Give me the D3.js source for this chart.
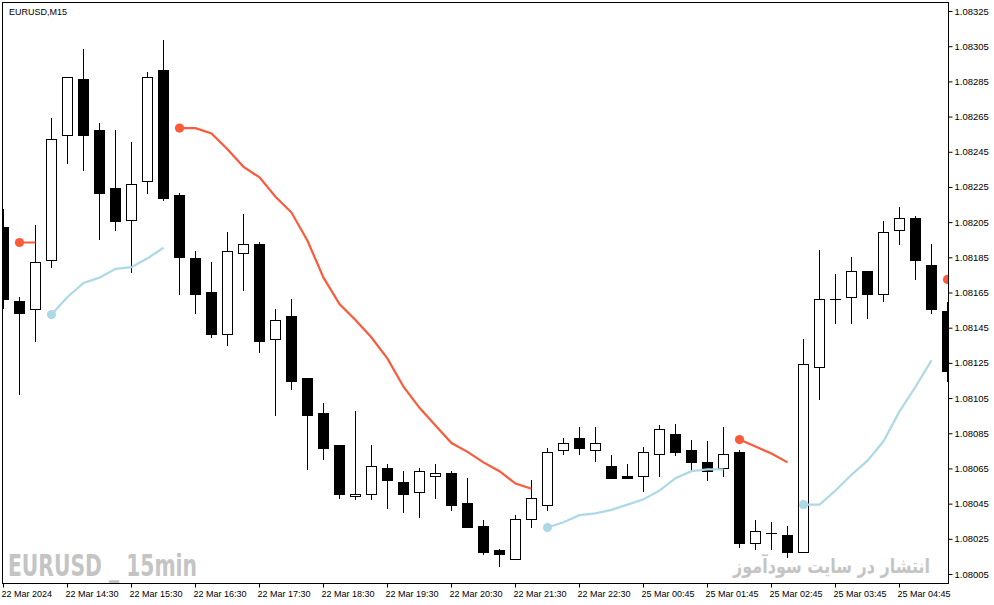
<!DOCTYPE html>
<html>
<head>
<meta charset="utf-8">
<script src="https://cdn.jsdelivr.net/npm/d3@7"></script>
<style>
    body { margin: 0; background: #ffffff; overflow: hidden; }
    svg { display: block; }
</style>
</head>
<body>
<svg id="chartSvg" width="994" height="605"></svg>
<script>
// eurusd m15 candles with the two indicator lines

//tick labels of the time axis and the candle index they sit on
const timeLabels = ['22 Mar 2024', '22 Mar 14:30', '22 Mar 15:30', '22 Mar 16:30', '22 Mar 17:30',
    '22 Mar 18:30', '22 Mar 19:30', '22 Mar 20:30', '22 Mar 21:30', '22 Mar 22:30',
    '25 Mar 00:45', '25 Mar 01:45', '25 Mar 02:45', '25 Mar 03:45', '25 Mar 04:45'];
const timeTickIndex = [0, 4, 8, 12, 16, 20, 24, 28, 32, 36, 40, 44, 48, 52, 56];

//price ticks
const priceTicks = [1.08005, 1.08025, 1.08045, 1.08065, 1.08085, 1.08105, 1.08125, 1.08145,
    1.08165, 1.08185, 1.08205, 1.08225, 1.08245, 1.08265, 1.08285, 1.08305, 1.08325];

//ohlc of every candle
const opens = [1.08203, 1.08161, 1.08156, 1.08184, 1.08255, 1.08287, 1.08258, 1.08225, 1.08207, 1.08229,
    1.08292, 1.08221, 1.08185, 1.08166, 1.08142, 1.08188, 1.08193, 1.08139, 1.08152, 1.08117,
    1.08097, 1.08079, 1.08050, 1.08051, 1.08066, 1.08058, 1.08052, 1.08061, 1.08063, 1.08046,
    1.08033, 1.08019, 1.08014, 1.08037, 1.08045, 1.08076, 1.08083, 1.08076, 1.08067, 1.08061,
    1.08061, 1.08074, 1.08085, 1.08076, 1.08069, 1.08066, 1.08075, 1.08023, 1.08029, 1.08028,
    1.08018, 1.08123, 1.08162, 1.08163, 1.08178, 1.08165, 1.08201, 1.08208, 1.08181, 1.08155];
const highs = [1.08213, 1.08163, 1.08204, 1.08265, 1.08288, 1.08304, 1.08262, 1.08258, 1.08251, 1.08291,
    1.08309, 1.08222, 1.08189, 1.08183, 1.08200, 1.08210, 1.08194, 1.08156, 1.08162, 1.08117,
    1.08103, 1.08079, 1.08098, 1.08079, 1.08068, 1.08064, 1.08066, 1.08068, 1.08064, 1.08060,
    1.08036, 1.08020, 1.08039, 1.08059, 1.08077, 1.08083, 1.08089, 1.08089, 1.08073, 1.08068,
    1.08078, 1.08090, 1.08091, 1.08082, 1.08081, 1.08089, 1.08076, 1.08036, 1.08035, 1.08033,
    1.08139, 1.08190, 1.08176, 1.08186, 1.08178, 1.08206, 1.08214, 1.08209, 1.08193, 1.08160];
const lows = [1.08157, 1.08108, 1.08138, 1.08180, 1.08239, 1.08235, 1.08196, 1.08201, 1.08177, 1.08222,
    1.08218, 1.08165, 1.08154, 1.08140, 1.08136, 1.08167, 1.08132, 1.08096, 1.08111, 1.08065,
    1.08071, 1.08049, 1.08048, 1.08048, 1.08043, 1.08041, 1.08038, 1.08049, 1.08042, 1.08032,
    1.08017, 1.08010, 1.08014, 1.08032, 1.08042, 1.08074, 1.08074, 1.08070, 1.08060, 1.08060,
    1.08053, 1.08061, 1.08073, 1.08065, 1.08059, 1.08061, 1.08021, 1.08020, 1.08020, 1.08015,
    1.08018, 1.08105, 1.08148, 1.08148, 1.08151, 1.08161, 1.08193, 1.08173, 1.08154, 1.08115];
const closes = [1.08162, 1.08154, 1.08183, 1.08253, 1.08288, 1.08255, 1.08222, 1.08206, 1.08227, 1.08288,
    1.08219, 1.08186, 1.08165, 1.08142, 1.08189, 1.08193, 1.08138, 1.08150, 1.08115, 1.08096,
    1.08077, 1.08051, 1.08051, 1.08067, 1.08059, 1.08051, 1.08064, 1.08063, 1.08045, 1.08032,
    1.08018, 1.08017, 1.08037, 1.08049, 1.08075, 1.08080, 1.08077, 1.08080, 1.08060, 1.08060,
    1.08075, 1.08088, 1.08075, 1.08069, 1.08064, 1.08074, 1.08023, 1.08030, 1.08029, 1.08018,
    1.08125, 1.08162, 1.08162, 1.08178, 1.08165, 1.08200, 1.08208, 1.08184, 1.08156, 1.08121];

//indicator lines, null where the line is not drawn
const redLine = [null, 1.08194, 1.08194, null, null, null, null, null, null, null,
    null, 1.08259, 1.08259, 1.08256, 1.08247, 1.08237, 1.08231, 1.08220, 1.08211, 1.08195,
    1.08174, 1.08159, 1.08150, 1.08140, 1.08128, 1.08112, 1.08100, 1.08090, 1.08080, 1.08075,
    1.08069, 1.08064, 1.08057, 1.08054, null, null, null, null, null, null,
    null, null, null, null, null, null, 1.08082, 1.08078, 1.08074, 1.08069,
    null, null, null, null, null, null, null, null, null, 1.08173];
const blueLine = [null, null, null, 1.08153, 1.08163, 1.08171, 1.08174, 1.08179, 1.08180, 1.08185,
    1.08191, null, null, null, null, null, null, null, null, null,
    null, null, null, null, null, null, null, null, null, null,
    null, null, null, null, 1.08032, 1.08035, 1.08039, 1.08040, 1.08042, 1.08045,
    1.08048, 1.08053, 1.08060, 1.08064, 1.08065, 1.08065, null, null, null, null,
    1.08045, 1.08045, 1.08053, 1.08062, 1.08070, 1.08081, 1.08098, 1.08112, 1.08127, null];

const symbolTitle = 'EURUSD,M15';
const watermarkLeft = 'EURUSD _ 15min';
const watermarkRight = 'انتشار در سایت سودآموز';

//will draw the chart
function createCandleChart(){
    const svg = d3.select('#chartSvg');
    svg.selectAll('*').remove();

    const left = 3;
    const right = 948;
    const top = 3;
    const bottom = 583;

    const candles = opens.map((o, i) => ({
        index: i, open: o, high: highs[i], low: lows[i], close: closes[i]
    }));

    //one candle every 16px
    const xScale = d3.scaleLinear()
        .domain([0, opens.length - 1])
        .range([3.5, 3.5 + 16 * (opens.length - 1)]);

    const yScale = d3.scaleLinear()
        .domain([1.08005, 1.08325])
        .range([575, 12]);

    const snap = v => Math.round(v) + 0.5;

    //clip everything inside the frame
    svg.append('clipPath')
        .attr('id', 'plotClip')
        .append('rect')
        .attr('x', left)
        .attr('y', top)
        .attr('width', right - left)
        .attr('height', bottom - top);

    const plot = svg.append('g').attr('clip-path', 'url(#plotClip)');

    //watermarks behind the candles
    svg.append('text')
        .attr('x', 8)
        .attr('y', 576)
        .attr('font-family', '"Liberation Sans Narrow", "DejaVu Sans Condensed", sans-serif')
        .attr('font-weight', 'bold')
        .attr('font-size', '31px')
        .attr('fill', '#c4c4c4')
        .attr('textLength', 189)
        .attr('lengthAdjust', 'spacingAndGlyphs')
        .text(watermarkLeft);

    //persian text is squeezed a bit to keep its width
    svg.append('g')
        .attr('transform', 'translate(930, 573) scale(0.8, 1)')
        .append('text')
        .attr('x', 0)
        .attr('y', 0)
        .attr('text-anchor', 'end')
        .attr('font-family', '"DejaVu Sans", sans-serif')
        .attr('font-weight', 'bold')
        .attr('font-size', '20px')
        .attr('fill', '#c4c4c4')
        .text(watermarkRight);

    //wicks
    plot.selectAll('.wick')
        .data(candles)
        .enter()
        .append('line')
            .attr('class', 'wick')
            .attr('x1', d => xScale(d.index))
            .attr('x2', d => xScale(d.index))
            .attr('y1', d => Math.round(yScale(d.high)))
            .attr('y2', d => Math.round(yScale(d.low)) + 1)
            .attr('stroke', '#000')
            .attr('stroke-width', 1);

    //bodies, white when price went up
    plot.selectAll('.body')
        .data(candles)
        .enter()
        .append('rect')
            .attr('class', 'body')
            .attr('x', d => xScale(d.index) - 5)
            .attr('y', d => snap(yScale(Math.max(d.open, d.close))))
            .attr('width', 10)
            .attr('height', d => Math.max(0.01, snap(yScale(Math.min(d.open, d.close))) - snap(yScale(Math.max(d.open, d.close)))))
            .attr('fill', d => d.close > d.open ? '#ffffff' : '#000000')
            .attr('stroke', '#000')
            .attr('stroke-width', 1);

    //indicator lines with a dot where each piece starts
    const drawIndicator = function(values, color){
        const line = d3.line()
            .defined(d => d != null)
            .x((d, i) => xScale(i))
            .y(d => yScale(d));

        plot.append('path')
            .datum(values)
            .attr('fill', 'none')
            .attr('stroke', color)
            .attr('stroke-width', 2.2)
            .attr('d', line);

        const starts = values
            .map((v, i) => ({ index: i, value: v }))
            .filter(d => d.value != null && (d.index == 0 || values[d.index - 1] == null));

        plot.selectAll(null)
            .data(starts)
            .enter()
            .append('circle')
                .attr('cx', d => xScale(d.index))
                .attr('cy', d => yScale(d.value))
                .attr('r', 4.6)
                .attr('fill', color);
    };

    drawIndicator(blueLine, '#add8e6');
    drawIndicator(redLine, '#fb5a3b');

    //frame
    svg.append('rect')
        .attr('x', left - 0.5)
        .attr('y', top - 0.5)
        .attr('width', right - left + 1)
        .attr('height', bottom - top + 1)
        .attr('fill', 'none')
        .attr('stroke', '#000')
        .attr('stroke-width', 1);

    //price axis on the right
    const yAxis = svg.append('g')
        .attr('transform', `translate(${right + 0.5}, 0)`)
        .call(d3.axisRight(yScale)
            .tickValues(priceTicks)
            .tickSize(4)
            .tickPadding(2)
            .offset(-0.5)
            .tickFormat(d3.format('.5f')));
    yAxis.select('.domain').remove();
    yAxis.selectAll('text')
        .attr('font-family', '"Liberation Sans", sans-serif')
        .attr('font-size', '9.5px')
        .attr('fill', '#000');

    //time axis at the bottom
    const xAxis = svg.append('g')
        .attr('transform', `translate(0, ${bottom + 0.5})`)
        .call(d3.axisBottom(xScale)
            .tickValues(timeTickIndex)
            .tickSize(4)
            .tickPadding(3)
            .offset(0)
            .tickFormat((d, i) => timeLabels[i]));
    xAxis.select('.domain').remove();
    xAxis.selectAll('text')
        .attr('text-anchor', 'start')
        .attr('x', -2)
        .attr('font-family', '"Liberation Sans", sans-serif')
        .attr('font-size', '9px')
        .attr('fill', '#000');

    //symbol title top left
    svg.append('text')
        .attr('x', 9)
        .attr('y', 15)
        .attr('font-family', '"Liberation Sans", sans-serif')
        .attr('font-size', '9px')
        .attr('fill', '#000')
        .text(symbolTitle);
}

createCandleChart();
</script>
</body>
</html>
